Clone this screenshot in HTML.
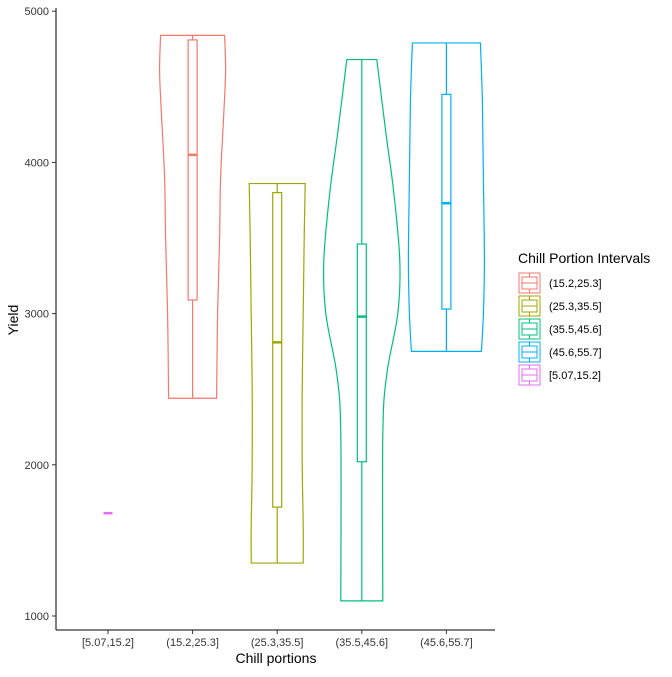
<!DOCTYPE html>
<html><head><meta charset="utf-8"><style>
body{margin:0;background:#fff;font-family:"Liberation Sans",sans-serif}
svg text{font-family:"Liberation Sans",sans-serif}
</style></head><body>
<svg id="chart" width="672" height="672" viewBox="0 0 672 672"></svg>
<script>
const categories=["[5.07,15.2]","(15.2,25.3]","(25.3,35.5]","(35.5,45.6]","(45.6,55.7]"];
const colors=["#E76BF3","#F8766D","#A3A500","#00BF7D","#00B0F6"];
const profileYields=[[1680],[4840,4600,4300,3900,3500,3000,2440],[3860,3500,3000,2500,2000,1600,1350],[4680,4200,3800,3350,3000,2600,2200,1100],[4790,4400,3900,3350,3000,2750]];
const profileWidths=[[0],[32,33,31,28,27,25,24],[28,27,26,25,25,26,26],[15,24,32,38,36,25,21,21],[34,36,37,38,37,35]];
const q1=[1680,3090,1720,2020,3030];
const medians=[1680,4050,2810,2980,3730];
const q3=[1680,4810,3800,3460,4450];
const mins=[1680,2440,1350,1100,2750];
const maxs=[1680,4840,3860,4680,4790];
const yTicks=[1000,2000,3000,4000,5000];
const legendLabels=["(15.2,25.3]","(25.3,35.5]","(35.5,45.6]","(45.6,55.7]","[5.07,15.2]"];
const legendColors=["#F8766D","#A3A500","#00BF7D","#00B0F6","#E76BF3"];

const NS="http://www.w3.org/2000/svg";
const svg=document.getElementById('chart');
const y=v=>616-(v-1000)*0.1512;
const x=i=>108+i*84.6;
function mk(t,a,p){const e=document.createElementNS(NS,t);for(const k in a)e.setAttribute(k,a[k]);(p||svg).appendChild(e);return e;}

let ax=mk('line',{x1:56,y1:8,x2:56,y2:630,stroke:'#000','stroke-width':1});


ax=mk('line',{x1:56,y1:630,x2:495,y2:630,stroke:'#000','stroke-width':1});


yTicks.forEach(v=>{
  mk('line',{x1:52,x2:56,y1:y(v),y2:y(v),stroke:'#333'});
  const t=mk('text',{x:49,y:y(v)+4,'text-anchor':'end','font-size':11,fill:'#333'});
  t.textContent=v;
  
  
});
categories.forEach((c,i)=>{
  mk('line',{x1:x(i),x2:x(i),y1:630,y2:634,stroke:'#333'});
  const t=mk('text',{x:x(i),y:646,'text-anchor':'middle','font-size':11,fill:'#333'});
  t.textContent=c;
  
  
});
let tt=mk('text',{x:276,y:663,'text-anchor':'middle','font-size':14,fill:'#000'});
tt.textContent='Chill portions';


tt=mk('text',{x:18,y:320,'text-anchor':'middle','font-size':14,fill:'#000',transform:'rotate(-90 18 320)'});
tt.textContent='Yield';



categories.forEach((c,i)=>{
  const g=mk('g',{});
  
  
  const cx=x(i),col=colors[i];
  const ys=profileYields[i],ws=profileWidths[i];
  if(ys.length>1){
    let r=ys.map((v,k)=>[cx+ws[k],y(v)]);
    let l=ys.map((v,k)=>[cx-ws[k],y(v)]).reverse();
    const smooth=pts=>{let d='';for(let k=0;k<pts.length-1;k++){const p0=pts[Math.max(k-1,0)],p1=pts[k],p2=pts[k+1],p3=pts[Math.min(k+2,pts.length-1)];
      d+=` C${p1[0]+(p2[0]-p0[0])/6},${p1[1]+(p2[1]-p0[1])/6} ${p2[0]-(p3[0]-p1[0])/6},${p2[1]-(p3[1]-p1[1])/6} ${p2[0]},${p2[1]}`;}return d;};
    const d=`M${l[l.length-1][0]},${l[l.length-1][1]} L${r[0][0]},${r[0][1]}`+smooth(r)+` L${l[0][0]},${l[0][1]}`+smooth(l)+'Z';
    mk('path',{d,fill:'none',stroke:col,'stroke-width':1.2},g);
    mk('line',{x1:cx,x2:cx,y1:y(maxs[i]),y2:y(q3[i]),stroke:col,'stroke-width':1.2},g);
    mk('line',{x1:cx,x2:cx,y1:y(q1[i]),y2:y(mins[i]),stroke:col,'stroke-width':1.2},g);
    mk('rect',{x:cx-4.5,y:y(q3[i]),width:9,height:y(q1[i])-y(q3[i]),fill:'#fff',stroke:col,'stroke-width':1.2},g);
  }
  mk('line',{x1:cx-4.5,x2:cx+4.5,y1:y(medians[i]),y2:y(medians[i]),stroke:col,'stroke-width':2.5},g);
});

tt=mk('text',{x:518,y:263,'font-size':14,fill:'#000'});
tt.textContent='Chill Portion Intervals';


legendLabels.forEach((lab,k)=>{
  const g=mk('g',{});
  
  
  const cy=283+k*23,c=legendColors[k];
  mk('path',{d:`M519,${cy-10} L540,${cy-10} L540,${cy+10} L519,${cy+10}Z`,fill:'none',stroke:c,'stroke-width':1},g);
  mk('rect',{x:522,y:cy-6,width:15,height:12,fill:'#fff',stroke:c},g);
  mk('line',{x1:522,x2:537,y1:cy,y2:cy,stroke:c},g);
  mk('line',{x1:529.5,x2:529.5,y1:cy-10,y2:cy-6,stroke:c},g);
  mk('line',{x1:529.5,x2:529.5,y1:cy+6,y2:cy+10,stroke:c},g);
  const t=mk('text',{x:549,y:cy+4,'font-size':11,fill:'#000'},g);
  t.textContent=lab;
});
</script>
</body></html>
